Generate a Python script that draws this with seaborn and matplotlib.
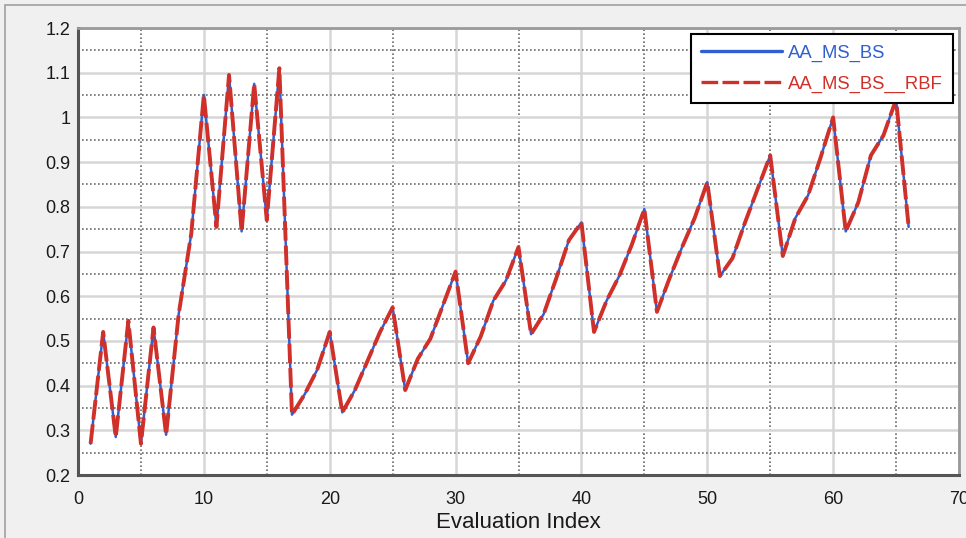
import matplotlib
matplotlib.use("Agg")
import matplotlib.pyplot as plt
import seaborn as sns
import pandas as pd
from matplotlib.patches import Rectangle
from matplotlib.ticker import MultipleLocator

evaluation_index = list(range(1, 67))
aa_ms_bs = [
    0.27, 0.52, 0.285, 0.545, 0.27, 0.53, 0.29, 0.56, 0.74, 1.05,
    0.755, 1.095, 0.745, 1.075, 0.77, 1.11, 0.335, 0.38, 0.435, 0.52,
    0.34, 0.39, 0.455, 0.52, 0.575, 0.39, 0.46, 0.505, 0.58, 0.655,
    0.45, 0.51, 0.59, 0.635, 0.71, 0.515, 0.56, 0.64, 0.725, 0.765,
    0.52, 0.59, 0.645, 0.715, 0.795, 0.565, 0.64, 0.71, 0.775, 0.855,
    0.645, 0.685, 0.765, 0.84, 0.915, 0.69, 0.775, 0.825, 0.91, 1.0,
    0.745, 0.81, 0.915, 0.96, 1.04, 0.755,
]
aa_ms_bs_rbf = [
    0.27, 0.52, 0.285, 0.545, 0.27, 0.53, 0.29, 0.56, 0.74, 1.05,
    0.755, 1.095, 0.745, 1.075, 0.77, 1.11, 0.335, 0.38, 0.435, 0.52,
    0.34, 0.39, 0.455, 0.52, 0.575, 0.39, 0.46, 0.505, 0.58, 0.655,
    0.45, 0.51, 0.59, 0.635, 0.71, 0.515, 0.56, 0.64, 0.725, 0.765,
    0.52, 0.59, 0.645, 0.715, 0.795, 0.565, 0.64, 0.71, 0.775, 0.855,
    0.645, 0.685, 0.765, 0.84, 0.915, 0.69, 0.775, 0.825, 0.91, 1.0,
    0.745, 0.81, 0.915, 0.96, 1.04, 0.755,
]
series_names = ["AA_MS_BS", "AA_MS_BS__RBF"]
series_colors = ["#2f5fd0", "#d0302a"]

sns.set_style("white")
plt.rcParams["font.family"] = ["Liberation Sans", "DejaVu Sans"]

fig = plt.figure(figsize=(9.66, 5.38), dpi=100, facecolor="#f0f0f0")
ax = fig.add_axes([78 / 966, 1 - 475 / 538, (959 - 78) / 966, (475 - 28) / 538])
ax.set_facecolor("white")

# figure border
fig.patches.append(Rectangle((5 / 966, -0.1), 1.2, (538 - 5) / 538 + 0.1,
                             transform=fig.transFigure, fill=False,
                             edgecolor="#a0a0a0", lw=1.2, zorder=0))

df_a = pd.DataFrame({"x": evaluation_index, "y": aa_ms_bs})
df_b = pd.DataFrame({"x": evaluation_index, "y": aa_ms_bs_rbf})
sns.lineplot(data=df_a, x="x", y="y", ax=ax, color=series_colors[0],
             lw=1.8, label=series_names[0], zorder=3)
sns.lineplot(data=df_b, x="x", y="y", ax=ax, color=series_colors[1],
             lw=2.8, linestyle=(0, (5.0, 1.3)), label=series_names[1], zorder=4)

ax.set_xlim(0, 70)
ax.set_ylim(0.2, 1.2)
ax.xaxis.set_major_locator(MultipleLocator(10))
ax.xaxis.set_minor_locator(MultipleLocator(5))
ax.yaxis.set_minor_locator(MultipleLocator(0.05))
ax.set_yticks([0.2, 0.3, 0.4, 0.5, 0.6, 0.7, 0.8, 0.9, 1.0, 1.1, 1.2])
ax.set_yticklabels(["0.2", "0.3", "0.4", "0.5", "0.6", "0.7", "0.8", "0.9", "1", "1.1", "1.2"])

ax.grid(True, which="major", color="#d6d6d6", lw=1.8, ls="-")
ax.grid(True, which="minor", color="#6a6a6a", lw=1.2, ls=(0, (1.0, 1.4)))
ax.set_axisbelow(True)

ax.tick_params(axis="both", which="major", direction="out", length=4.5, width=1.8,
               color="#555555", labelsize=13, labelcolor="#1a1a1a")
ax.tick_params(axis="x", which="major", pad=7)
ax.tick_params(axis="y", which="major", pad=1)
ax.tick_params(axis="both", which="minor", length=0)

for side in ["left", "bottom"]:
    ax.spines[side].set_color("#555555")
    ax.spines[side].set_linewidth(2.2)
for side in ["top", "right"]:
    ax.spines[side].set_visible(True)
    ax.spines[side].set_color("#9a9a9a")
    ax.spines[side].set_linewidth(2.0)

ax.set_xlabel("Evaluation Index", fontsize=16, color="#1a1a1a", labelpad=3)
ax.set_ylabel("")

leg = ax.legend(loc="upper right", fontsize=13.3, frameon=True, fancybox=False,
                edgecolor="black", framealpha=1, handlelength=4.4,
                handletextpad=0.3, labelspacing=0.75, borderpad=0.55,
                borderaxespad=0.35)
leg.get_frame().set_linewidth(1.5)
for line in leg.get_lines():
    line.set_linewidth(2.4)
for txt, col in zip(leg.get_texts(), series_colors):
    txt.set_color(col)

fig.savefig("out.png", dpi=100, facecolor=fig.get_facecolor())
